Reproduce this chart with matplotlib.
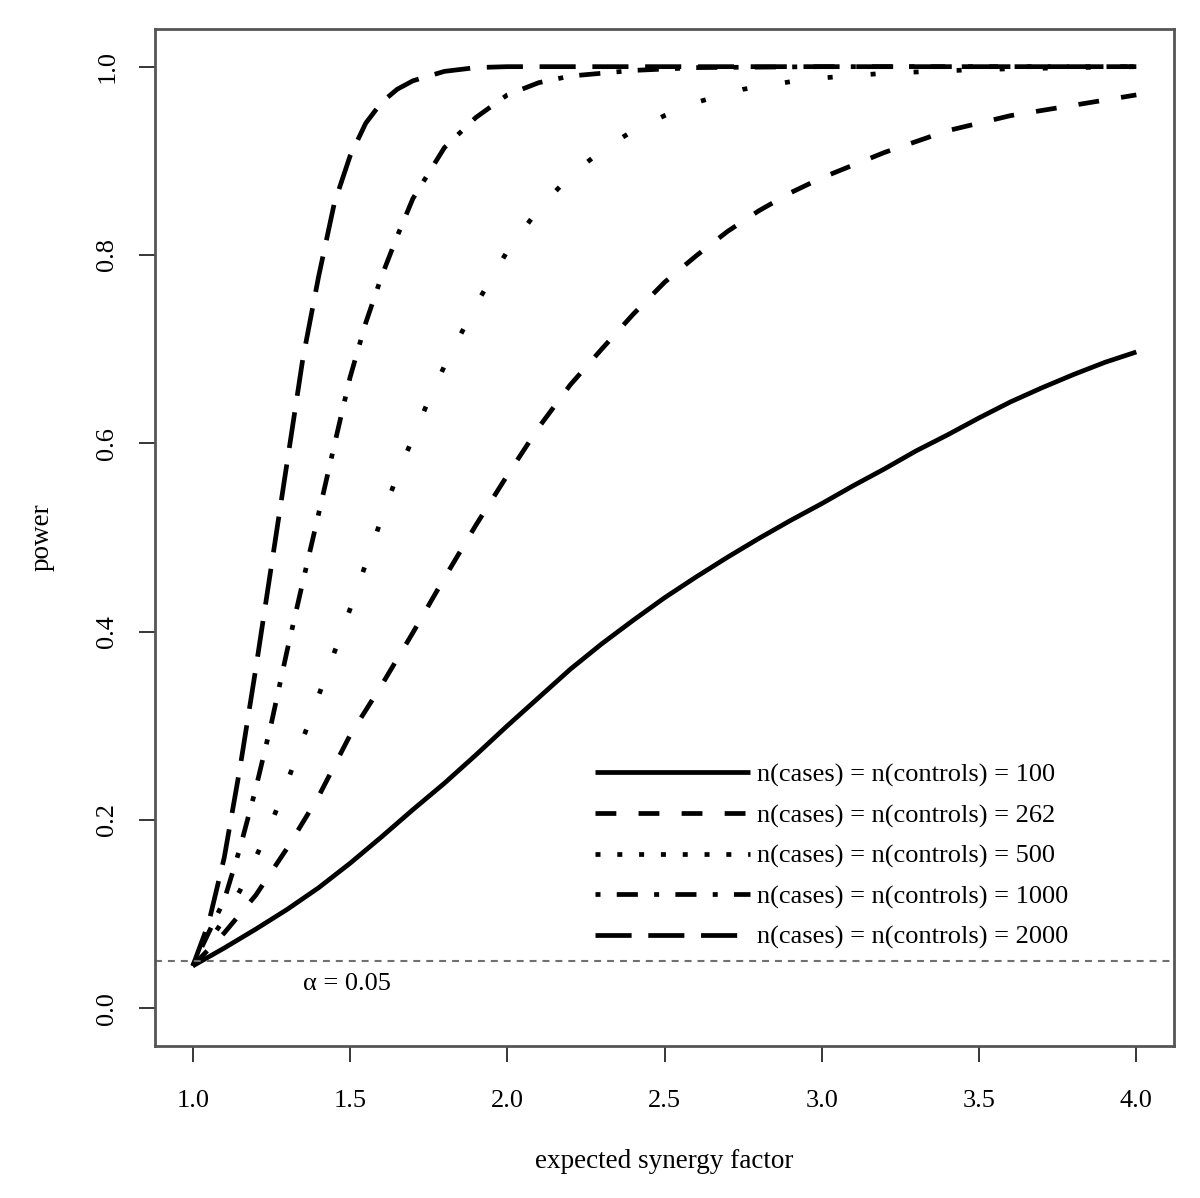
import matplotlib
matplotlib.use("Agg")
import matplotlib.pyplot as plt
from matplotlib.lines import Line2D

plt.rcParams['font.family'] = ['Liberation Serif', 'DejaVu Serif']
plt.rcParams['lines.scale_dashes'] = False

# power curves (x = expected synergy factor)
x_100 = [1.0, 1.1, 1.2, 1.3, 1.4, 1.5, 1.6, 1.7, 1.8, 1.9, 2.0, 2.1, 2.2, 2.3, 2.4, 2.5,
         2.6, 2.7, 2.8, 2.9, 3.0, 3.1, 3.2, 3.3, 3.4, 3.5, 3.6, 3.7, 3.8, 3.9, 4.0]
p_100 = [0.045, 0.064, 0.084, 0.105, 0.128, 0.154, 0.182, 0.211, 0.239, 0.269, 0.30,
         0.33, 0.36, 0.387, 0.412, 0.436, 0.458, 0.479, 0.499, 0.518, 0.536, 0.555,
         0.573, 0.592, 0.609, 0.627, 0.644, 0.659, 0.673, 0.686, 0.697]

x_262 = [1.0, 1.1, 1.2, 1.3, 1.4, 1.5, 1.6, 1.7, 1.8, 1.9, 2.0, 2.1, 2.2, 2.3, 2.4,
         2.5, 2.6, 2.7, 2.8, 2.9, 3.0, 3.2, 3.4, 3.6, 3.8, 4.0]
p_262 = [0.045, 0.08, 0.12, 0.17, 0.225, 0.29, 0.343, 0.399, 0.457, 0.513, 0.566,
         0.617, 0.662, 0.70, 0.737, 0.771, 0.799, 0.825, 0.847, 0.866, 0.882, 0.909,
         0.932, 0.948, 0.959, 0.970]

x_500 = [1.0, 1.05, 1.1, 1.15, 1.2, 1.25, 1.3, 1.35, 1.4, 1.45, 1.5, 1.55, 1.6, 1.65,
         1.7, 1.75, 1.8, 1.9, 2.0, 2.1, 2.2, 2.3, 2.4, 2.5, 2.6, 2.75, 2.9, 3.0, 3.2,
         3.5, 3.8, 4.0]
p_500 = [0.045, 0.07, 0.095, 0.125, 0.16, 0.197, 0.24, 0.286, 0.332, 0.378, 0.424,
         0.472, 0.52, 0.566, 0.606, 0.646, 0.682, 0.747, 0.804, 0.849, 0.884, 0.911,
         0.932, 0.948, 0.962, 0.976, 0.984, 0.988, 0.993, 0.997, 0.999, 1.0]

x_1000 = [1.0, 1.05, 1.1, 1.15, 1.2, 1.25, 1.3, 1.35, 1.4, 1.45, 1.5, 1.55, 1.6, 1.65,
          1.7, 1.8, 1.9, 2.0, 2.1, 2.2, 2.4, 2.6, 3.0, 3.5, 4.0]
p_1000 = [0.045, 0.08, 0.115, 0.17, 0.233, 0.303, 0.38, 0.453, 0.525, 0.598, 0.67,
          0.728, 0.777, 0.82, 0.86, 0.914, 0.946, 0.97, 0.983, 0.99, 0.996, 0.999,
          1.0, 1.0, 1.0]

x_2000 = [1.0, 1.05, 1.1, 1.15, 1.2, 1.25, 1.3, 1.35, 1.4, 1.45, 1.5, 1.55, 1.6, 1.65,
          1.7, 1.8, 1.9, 2.0, 2.5, 3.0, 3.5, 4.0]
p_2000 = [0.045, 0.09, 0.16, 0.255, 0.36, 0.47, 0.58, 0.69, 0.777, 0.855, 0.905, 0.94,
          0.962, 0.976, 0.985, 0.995, 0.999, 1.0, 1.0, 1.0, 1.0, 1.0]

labels = ['n(cases) = n(controls) = 100', 'n(cases) = n(controls) = 262',
          'n(cases) = n(controls) = 500', 'n(cases) = n(controls) = 1000',
          'n(cases) = n(controls) = 2000']
alpha = 0.05

# dash patterns in points (R lty 1..5 look)
dash_curve = [None, (15, 16), (3.6, 27.4), (3.6, 11.7, 15.2, 11.7), (26, 12)]
dash_legend = [None, (15, 16), (3.6, 12.1), (3.6, 11.7, 15.2, 11.7), (26, 12)]
lw = 3.4

fig = plt.figure(figsize=(12, 11.98), dpi=100)
ax = fig.add_axes([0.1292, 0.1269, 0.8492, 0.8489])

series = [(x_100, p_100), (x_262, p_262), (x_500, p_500), (x_1000, p_1000), (x_2000, p_2000)]
for (xs, ps), d in zip(series, dash_curve):
    line, = ax.plot(xs, ps, color='black', lw=lw, solid_capstyle='butt',
                    dash_capstyle='butt', solid_joinstyle='round')
    if d is not None:
        line.set_dashes(d)

ax.axhline(alpha, color='#707070', lw=1.5, dashes=(5, 4.3))
ax.text(1.49, 0.026, 'α = 0.05', fontsize=19, ha='center', va='center')

handles = []
for d in dash_legend:
    h = Line2D([], [], color='black', lw=lw, dash_capstyle='butt', solid_capstyle='butt')
    if d is not None:
        h.set_dashes(d)
    handles.append(h)
ax.legend(handles, labels, loc='upper left', bbox_to_anchor=(0.432, 0.278),
          frameon=False, fontsize=19, handlelength=5.87, handletextpad=0.27,
          labelspacing=0.63, borderpad=0, borderaxespad=0)

ax.set_xlim(0.88, 4.12)
ax.set_ylim(-0.04, 1.04)
ax.set_xticks([1.0, 1.5, 2.0, 2.5, 3.0, 3.5, 4.0])
ax.set_yticks([0.0, 0.2, 0.4, 0.6, 0.8, 1.0])
ax.set_xticklabels(['1.0', '1.5', '2.0', '2.5', '3.0', '3.5', '4.0'])
ax.set_yticklabels(['0.0', '0.2', '0.4', '0.6', '0.8', '1.0'], rotation=90, va='center')
ax.tick_params(length=11.5, width=1.1, labelsize=19)
ax.tick_params(axis='x', pad=20)
ax.tick_params(axis='y', pad=15)

for s in ax.spines.values():
    s.set_color('#555555')
    s.set_linewidth(2)

ax.set_xlabel('expected synergy factor', fontsize=19.5, labelpad=27)
ax.set_ylabel('power', fontsize=19.5, labelpad=30)

fig.savefig('out.png', dpi=100)
